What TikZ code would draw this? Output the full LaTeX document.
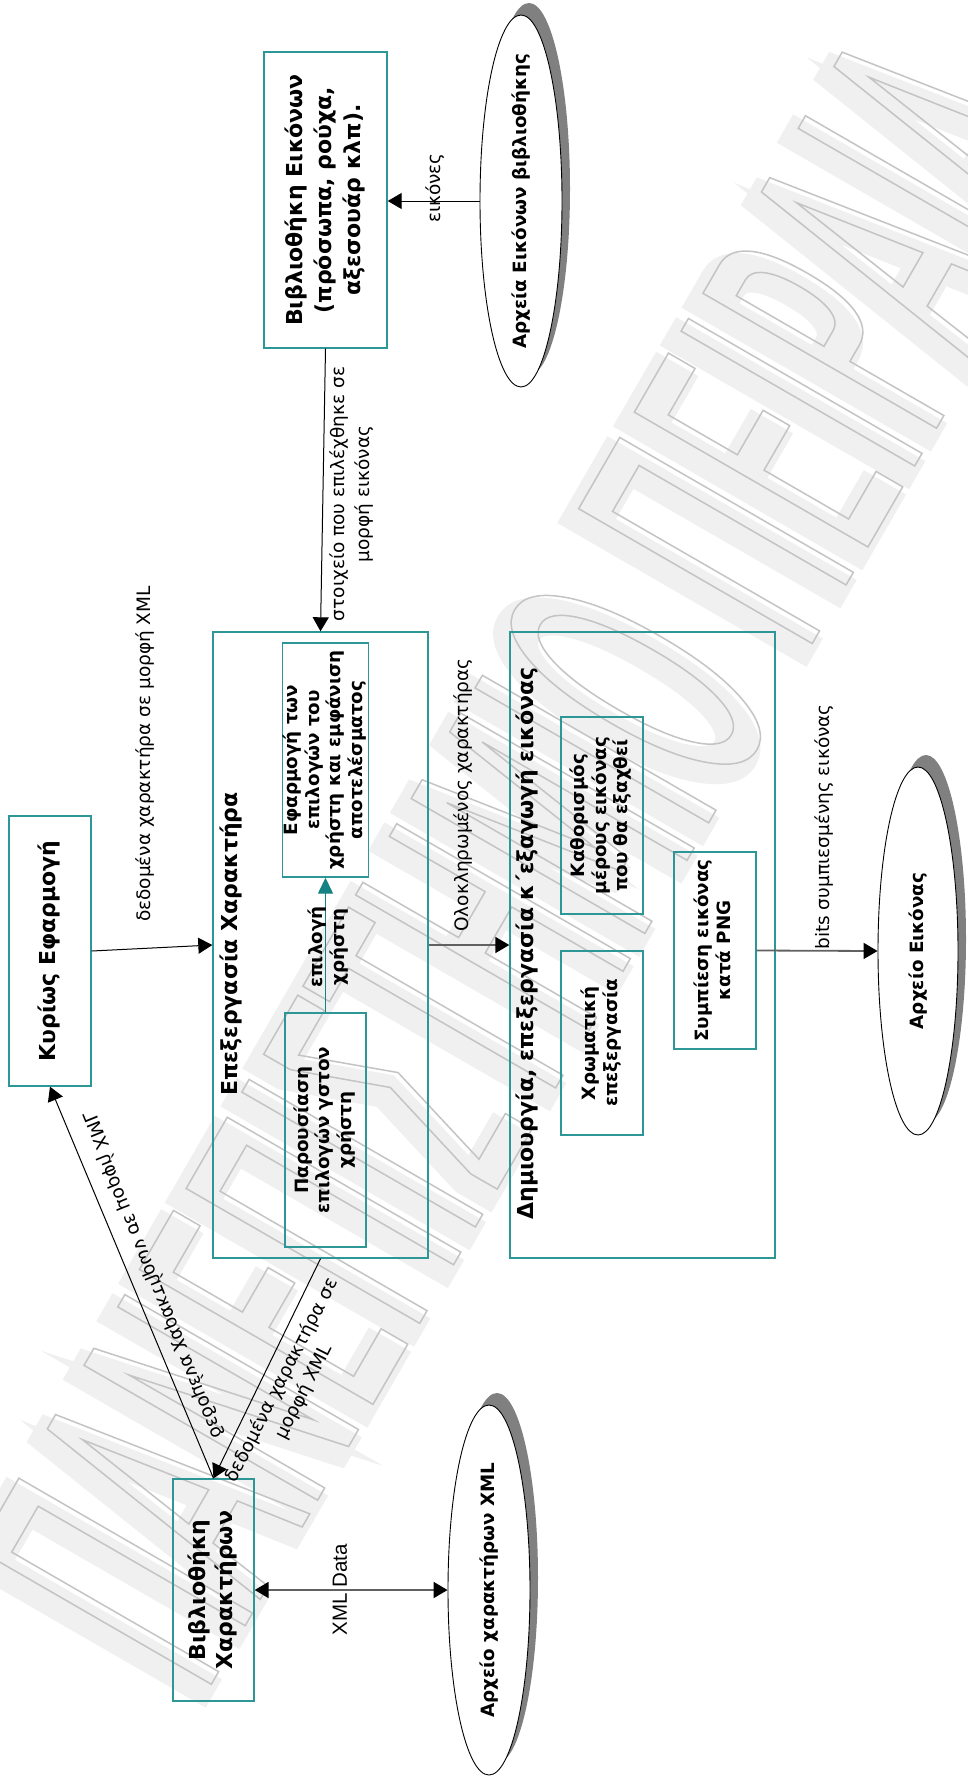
\documentclass[tikz,border=0pt]{standalone}
\usepackage{fontspec}
\usepackage{graphicx}
\setmainfont{DejaVu Sans}
\newfontfamily\wmfont[FakeStretch=0.40]{DejaVu Sans}
\newfontfamily\arialfont{Liberation Sans}
\usetikzlibrary{arrows.meta,shapes.geometric,shadows}

\definecolor{boxteal}{RGB}{45,150,150}
\definecolor{arrteal}{RGB}{20,130,130}
\definecolor{shadowgray}{RGB}{128,128,128}

\newcommand\fsz[2]{\fontsize{#1}{#2}\selectfont}
% rotated, centred block of lines
\newcommand\vlines[1]{\rotatebox{90}{\begin{tabular}{@{}c@{}}#1\end{tabular}}}
% text rendering mode and stroke width for the watermark layers
\newcommand\textmode[2]{\special{pdf:literal direct #1 Tr #2 w}}

\tikzset{flowtip/.tip={Triangle[length=14pt,width=16pt,black]}}

\begin{document}
\begin{tikzpicture}[x=1pt,y=-1pt,
  box/.style={draw=boxteal, line width=1.4pt, rectangle, inner sep=0pt},
  store/.style={ellipse, draw=black, line width=0.9pt, fill=white, inner sep=0pt,
    drop shadow={shadow xshift=8pt, shadow yshift=12pt, fill=shadowgray, opacity=1}},
  big/.style={font=\bfseries\fsz{22}{29}},
  small/.style={font=\bfseries\fsz{18.3}{21.5}},
  lbl/.style={font=\fsz{18.5}{25}, inner sep=0pt},
  flow/.style={draw=black, line width=1pt, -{flowtip}},
  flowgray/.style={draw=black!62, line width=1.8pt, -{flowtip}},
  flowteal/.style={draw=arrteal, line width=1.4pt, -{Triangle[length=16pt,width=15pt]}},
  wm/.style={rotate=60, anchor=base west, inner sep=0pt}
]
\useasboundingbox (0,0) rectangle (968,1786);
\fill[white] (0,0) rectangle (968,1786);

% ---- watermark: condensed outlined lettering with a soft shadow ----
\node[wm] (wmshade) at (195,1708)
  {\wmfont\fsz{370}{370}\textmode{2}{18}\color{black!6}ΠΑΝΕΠΙΣΤΗΜΙΟ ΠΕΙΡΑΙΑ};
\node[wm] (wmtext) at (204,1697)
  {\wmfont\fsz{370}{370}\textmode{1}{1.5}\color{black!23}ΠΑΝΕΠΙΣΤΗΜΙΟ ΠΕΙΡΑΙΑ};

% ---- processes ----
\node[box, minimum width=123pt, minimum height=296pt, big] (libimg) at (325.5,200)
  {\vlines{Βιβλιοθήκη Εικόνων\\(πρόσωπα, ρούχα,\\αξεσουάρ κλπ).}};
\node[box, minimum width=82pt, minimum height=270pt, big] (mainapp) at (50,951)
  {\vlines{Κυρίως Εφαρμογή}};
\node[box, minimum width=215pt, minimum height=626pt] (proc) at (320.5,945) {};
\node[big, rotate=90, inner sep=0pt] (tproc) at (231,944) {Επεξεργασία Χαρακτήρα};
\node[box, minimum width=81pt, minimum height=234pt, small] (apply) at (325.5,760)
  {\vlines{Εφαρμογή των\\επιλογών του\\χρήστη και εμφάνιση\\αποτελέσματος}};
\node[box, minimum width=81pt, minimum height=234pt, small] (pres) at (325.5,1130)
  {\vlines{Παρουσίαση\\επιλογών γστον\\χρήστη}};
\node[box, minimum width=265pt, minimum height=626pt] (create) at (642.5,945) {};
\node[big, rotate=90, inner sep=0pt] (tcreate) at (527,943.5)
  {Δημιουργία, επεξεργασία κ΄εξαγωγή εικόνας};
\node[box, minimum width=82pt, minimum height=197pt, small] (crop) at (602,815.5)
  {\vlines{Καθορισμός\\μέρους εικόνας\\που θα εξαχθεί}};
\node[box, minimum width=82pt, minimum height=184pt, small] (colorp) at (602,1043)
  {\vlines{Χρωματική\\επεξεργασία}};
\node[box, minimum width=82pt, minimum height=197pt, small] (png) at (715,950.5)
  {\vlines{Συμπίεση εικόνας\\κατά PNG}};
\node[box, minimum width=81pt, minimum height=222pt, font=\bfseries\fsz{22}{27}] (charlib) at (213.5,1590)
  {\vlines{Βιβλιοθήκη\\Χαρακτήρων}};

% ---- data stores ----
\node[store, minimum width=82pt, minimum height=372pt] (imgfiles) at (521,201) {};
\node[small, rotate=90, inner sep=0pt] (timgfiles) at (imgfiles) {Αρχεία Εικόνων βιβλιοθήκης};
\node[store, minimum width=80pt, minimum height=368pt] (imgout) at (918,951) {};
\node[small, rotate=90, inner sep=0pt] (timgout) at (imgout) {Αρχείο Εικόνας};
\node[store, minimum width=82pt, minimum height=370pt] (xmlfile) at (489,1590) {};
\node[small, rotate=90, inner sep=0pt] (txmlfile) at (xmlfile) {Αρχείο χαρακτήρων XML};

% ---- flows ----
\draw[flow] (imgfiles.west) -- (imgfiles.west -| libimg.east);
\draw[flow] (libimg.south) -- (proc.north);
\draw[flow] (mainapp.east) -- (proc.west);
\draw[flowgray] (proc.east) -- (create.west);
\draw[flowgray] (png.east) -- (imgout.west);
\draw[flow] (charlib.north) -- (mainapp.south);
\draw[flow] (proc.south) -- (charlib.north);
\draw[flowgray, {flowtip}-{flowtip}] (charlib.east) -- (xmlfile.west);
\draw[flowteal] (pres.north) -- (apply.south);

% ---- flow labels ----
\node[lbl, rotate=90] (leik) at (435,188) {εικόνες};
\node[lbl, rotate=90, align=center] (lstoix) at (352,494)
  {στοιχείο που επιλέχθηκε σε\\μορφή εικόνας};
\node[lbl, rotate=90] (lded) at (145,754) {δεδομένα χαρακτήρα σε μορφή XML};
\node[lbl, rotate=90] (lolok) at (463,795) {Ολοκληρωμένος χαρακτήρας};
\node[lbl, rotate=90] (lbits) at (824,827) {bits συμπιεσμένης εικόνας};
\node[lbl, rotate=90, font=\arialfont\fsz{20.5}{24}] (lxml) at (340,1590) {XML Data};
\node[lbl, rotate=112] (ldiagl) at (153,1275)
  {\scalebox{1}[-1]{δεδομένα χαρακτήρων σε μορφή XML}};
\node[lbl, rotate=63, align=center] (ldiagr) at (293,1386)
  {δεδομένα χαρακτήρα σε\\μορφή XML};
\node[rotate=90, align=center, inner sep=0pt, font=\bfseries\fsz{18.3}{22}] (lsel) at (328,947)
  {επιλογή\\χρήστη};
\end{tikzpicture}
\end{document}
